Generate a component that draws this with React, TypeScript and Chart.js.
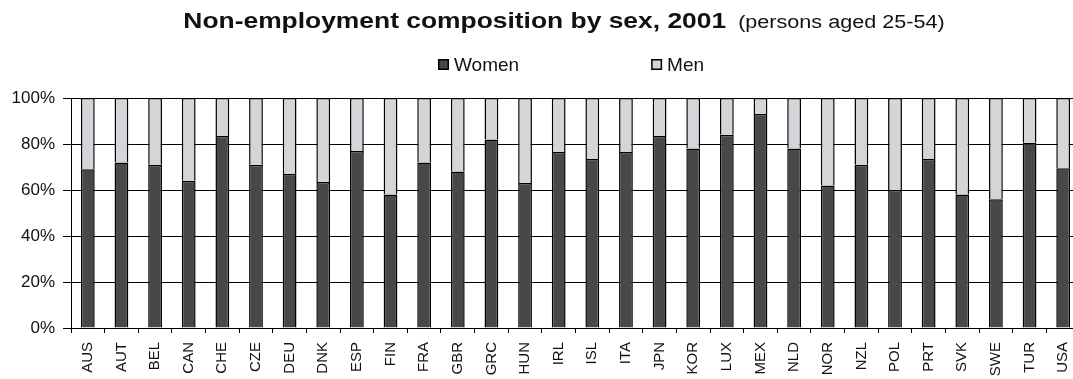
import React, { useEffect, useRef } from "react";
import { Chart, registerables } from "chart.js";

Chart.register(...registerables);

// OECD countries, persons aged 25-54, 2001
const countries = [
  "AUS", "AUT", "BEL", "CAN", "CHE", "CZE", "DEU", "DNK", "ESP", "FIN",
  "FRA", "GBR", "GRC", "HUN", "IRL", "ISL", "ITA", "JPN", "KOR", "LUX",
  "MEX", "NLD", "NOR", "NZL", "POL", "PRT", "SVK", "SWE", "TUR", "USA",
];

// Share of the non-employed who are women (%)
const womenShare = [
  69, 72, 71, 64, 83.5, 71, 67, 63.5, 77, 58,
  72, 68, 82, 63, 76.5, 73.5, 76.5, 83.5, 78, 84,
  93, 78, 62, 71, 60, 73.5, 58, 56, 80.5, 69.5,
];

// Share of the non-employed who are men (%)
const menShare = [
  31, 28, 29, 36, 16.5, 29, 33, 36.5, 23, 42,
  28, 32, 18, 37, 23.5, 26.5, 23.5, 16.5, 22, 16,
  7, 22, 38, 29, 40, 26.5, 42, 44, 19.5, 30.5,
];

const yTickValues = [0, 20, 40, 60, 80, 100];

const titleMain = "Non-employment composition by sex, 2001";
const titleNote = "(persons aged 25-54)";

const FONT = '"Liberation Sans", Arial, Helvetica, sans-serif';
const TEXT = "#111111";

// Draws the two-part title and the legend row above the plot.
const headerPlugin = {
  id: "header",
  afterDraw(chart: any) {
    const ctx = chart.ctx as CanvasRenderingContext2D;
    ctx.save();
    ctx.fillStyle = TEXT;
    ctx.textBaseline = "alphabetic";
    ctx.textAlign = "left";

    // title
    const sx = 1.2;
    ctx.font = `bold 22px ${FONT}`;
    const w1 = ctx.measureText(titleMain).width;
    ctx.font = `18px ${FONT}`;
    const w2 = ctx.measureText(titleNote).width;
    const gap = 10;
    const total = (w1 + gap + w2) * sx;
    const cx = 564;
    ctx.save();
    ctx.translate(cx - total / 2, 28);
    ctx.scale(sx, 1);
    ctx.font = `bold 22px ${FONT}`;
    ctx.fillText(titleMain, 0, 0);
    ctx.font = `18px ${FONT}`;
    ctx.fillText(titleNote, w1 + gap, 0);
    ctx.restore();

    // legend
    ctx.font = `19px ${FONT}`;
    let x = 438;
    const boxTop = 59;
    const box = 11;
    chart.data.datasets.forEach((ds: any) => {
      ctx.fillStyle = ds.backgroundColor;
      ctx.fillRect(x, boxTop, box, box);
      ctx.strokeStyle = "#000";
      ctx.lineWidth = 1.5;
      ctx.strokeRect(x + 0.75, boxTop + 0.75, box - 1.5, box - 1.5);
      ctx.fillStyle = TEXT;
      ctx.fillText(ds.label, x + box + 5, 71);
      const tw = ctx.measureText(ds.label).width;
      x += box + 5 + tw + 132;
    });
    ctx.restore();
  },
};

export default function App() {
  const canvasRef = useRef<HTMLCanvasElement | null>(null);

  useEffect(() => {
    const canvas = canvasRef.current;
    if (!canvas) return;
    const chart = new Chart(canvas, {
      type: "bar",
      data: {
        labels: countries,
        datasets: [
          {
            label: "Women",
            data: womenShare,
            backgroundColor: "#484848",
            borderColor: "#000000",
            borderWidth: 1.5,
            barPercentage: 0.41,
            categoryPercentage: 1,
          },
          {
            label: "Men",
            data: menShare,
            backgroundColor: "#d5d5d9",
            borderColor: "#000000",
            borderWidth: 1.5,
            barPercentage: 0.41,
            categoryPercentage: 1,
          },
        ],
      },
      options: {
        animation: false,
        responsive: true,
        maintainAspectRatio: false,
        layout: { padding: { top: 98, left: 0, right: 0, bottom: 0 } },
        plugins: {
          legend: { display: false },
          title: { display: false },
          tooltip: { enabled: false },
        },
        scales: {
          x: {
            stacked: true,
            offset: true,
            grid: {
              offset: true,
              drawOnChartArea: false,
              drawTicks: true,
              tickLength: 5,
              color: "#000000",
            },
            border: { color: "#000000", width: 1 },
            ticks: {
              autoSkip: false,
              minRotation: 90,
              maxRotation: 90,
              padding: 9,
              color: TEXT,
              font: { family: FONT, size: 15 },
            },
            afterFit(scale: any) {
              scale.height = 51;
              scale.paddingLeft = 0;
              scale.paddingRight = 0;
            },
          },
          y: {
            stacked: true,
            min: 0,
            max: 100,
            afterBuildTicks(scale: any) {
              scale.ticks = yTickValues.map((v) => ({ value: v }));
            },
            ticks: {
              padding: 8,
              color: TEXT,
              font: { family: FONT, size: 17 },
              callback: (v: any) => `${v}%`,
            },
            grid: { color: "#000000", tickLength: 8, lineWidth: 1 },
            border: { color: "#000000", width: 1 },
            afterFit(scale: any) {
              scale.width = 71;
            },
          },
        },
      },
      plugins: [headerPlugin],
    });
    return () => chart.destroy();
  }, []);

  return (
    <div
      style={{
        position: "absolute",
        left: 0,
        top: 0,
        width: 1073,
        height: 379,
        overflow: "hidden",
        background: "#ffffff",
      }}
    >
      <div style={{ position: "relative", width: 1080, height: 379 }}>
        <canvas ref={canvasRef} />
      </div>
    </div>
  );
}
